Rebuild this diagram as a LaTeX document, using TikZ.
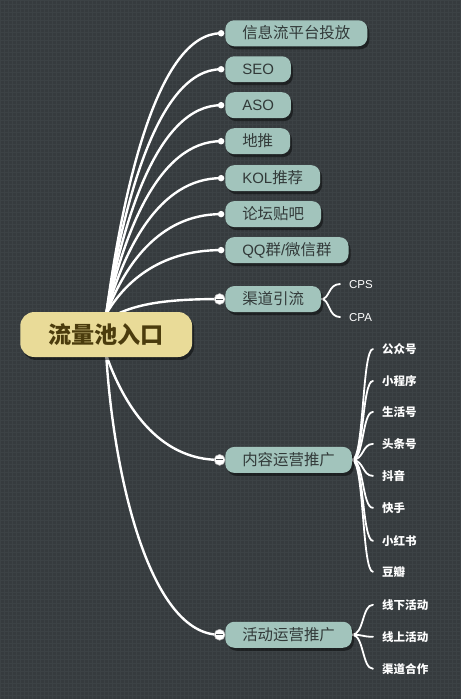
\documentclass[tikz,border=0pt]{standalone}
\usepackage{fontspec}
\setmainfont{Liberation Sans}
\newfontfamily\cjk{Noto Sans CJK SC}[Scale=1.03]
\usetikzlibrary{shadows}
\definecolor{bgc}{HTML}{363B3E}
\definecolor{gridc}{HTML}{3C4245}
\definecolor{boxc}{HTML}{A2C4BC}
\definecolor{boxtxt}{HTML}{323A39}
\definecolor{rootc}{HTML}{E9DB98}
\definecolor{roottxt}{HTML}{4B3C0D}
\definecolor{foldbar}{HTML}{4A4F52}
\pgfdeclarelayer{bglayer}
\pgfdeclarelayer{linelayer}
\pgfsetlayers{bglayer,linelayer,main}
\tikzset{
 topic/.style={anchor=west, fill=boxc, text=boxtxt, rounded corners=9pt, minimum height=26pt,
   inner xsep=17pt, inner ysep=0pt, text height=11.5pt, text depth=0.5pt,
   font=\fontsize{15}{18}\selectfont,
   drop shadow={shadow xshift=2pt, shadow yshift=-3pt, opacity=0.45, fill=black}},
 rootbox/.style={fill=rootc, text=roottxt, rounded corners=14pt, minimum width=172pt,
   minimum height=45pt, inner sep=0pt, text height=17.5pt, text depth=0pt,
   font=\fontsize{22.5}{26}\selectfont\bfseries,
   drop shadow={shadow xshift=2pt, shadow yshift=-3pt, opacity=0.45, fill=black}},
 leaf/.style={anchor=west, text=white, inner sep=0pt, font=\fontsize{11.2}{13}\selectfont\bfseries,
   text height=9pt, text depth=0pt},
 latleaf/.style={anchor=west, text=white, inner sep=0pt, font=\fontsize{11.5}{13}\selectfont,
   text height=8.2pt, text depth=0pt},
 mainline/.style={draw=white, line width=2.4pt, line cap=round},
 subline/.style={draw=white, line width=1.8pt, line cap=round},
 dotc/.style={fill=white, circle, inner sep=0pt, minimum size=6.5pt},
 fold/.style={fill=white, draw=gray!60, line width=0.5pt, circle, inner sep=0pt, minimum size=11pt,
   path picture={\draw[foldbar, line width=1.1pt] ([xshift=-3.6pt]path picture bounding box.center) -- ([xshift=3.6pt]path picture bounding box.center);}}
}
\begin{document}
\begin{tikzpicture}[x=1pt,y=-1pt]
\begin{pgfonlayer}{bglayer}
\fill[bgc] (0,0) rectangle (460,699);
\draw[gridc, line width=0.6pt] (0,0) grid[step=4pt] (460,699);
\end{pgfonlayer}
\useasboundingbox (0,0) rectangle (460,699);

% root
\node[rootbox] (root) at (106,334.5) {\cjk 流量池入口};
\coordinate (rt) at (106,314);
\coordinate (rb) at (106,355);

% first-level topics
\node[topic] (t1) at (225,33) {\cjk 信息流平台投放};
\node[topic] (t2) at (225,69) {SEO};
\node[topic] (t3) at (225,105) {ASO};
\node[topic] (t4) at (225,141) {\cjk 地推};
\node[topic] (t5) at (225,178) {KOL{\cjk 推荐}};
\node[topic] (t6) at (225,214) {\cjk 论坛贴吧};
\node[topic] (t7) at (225,250) {QQ{\cjk 群}/{\cjk 微信群}};
\node[topic] (t8) at (225,299) {\cjk 渠道引流};
\node[topic] (t9) at (225,460) {\cjk 内容运营推广};
\node[topic] (t10) at (225,635) {\cjk 活动运营推广};

% dots
\node[dotc] (d1) at (221,33) {};
\node[dotc] (d2) at (221,69) {};
\node[dotc] (d3) at (221,105) {};
\node[dotc] (d4) at (221,141) {};
\node[dotc] (d5) at (221,178) {};
\node[dotc] (d6) at (221,214) {};
\node[dotc] (d7) at (221,250) {};
\node[fold] (f8) at (219.5,299) {};
\node[fold] (f9) at (219.5,460) {};
\node[fold] (f10) at (219.5,635) {};

% leaves
\node[latleaf] (cps) at (349,284) {CPS};
\node[latleaf] (cpa) at (349,317) {CPA};
\node[leaf] (n1) at (382,349) {\cjk 公众号};
\node[leaf] (n2) at (382,381) {\cjk 小程序};
\node[leaf] (n3) at (382,412) {\cjk 生活号};
\node[leaf] (n4) at (382,444) {\cjk 头条号};
\node[leaf] (n5) at (382,476) {\cjk 抖音};
\node[leaf] (n6) at (382,508) {\cjk 快手};
\node[leaf] (n7) at (382,541) {\cjk 小红书};
\node[leaf] (n8) at (382,572) {\cjk 豆瓣};
\node[leaf] (a1) at (382,605) {\cjk 线下活动};
\node[leaf] (a2) at (382,637) {\cjk 线上活动};
\node[leaf] (a3) at (382,669) {\cjk 渠道合作};

\begin{pgfonlayer}{linelayer}
\draw[mainline] (rt) .. controls (123.25,186.45) and (157.75,33) .. (d1.center);
\draw[mainline] (rt) .. controls (123.25,202.65) and (157.75,69) .. (d2.center);
\draw[mainline] (rt) .. controls (123.25,218.85) and (157.75,105) .. (d3.center);
\draw[mainline] (rt) .. controls (123.25,235.05) and (157.75,141) .. (d4.center);
\draw[mainline] (rt) .. controls (123.25,251.7) and (157.75,178) .. (d5.center);
\draw[mainline] (rt) .. controls (123.25,267.9) and (157.75,214) .. (d6.center);
\draw[mainline] (rt) .. controls (123.25,284.1) and (157.75,250) .. (d7.center);
\draw[mainline] ([yshift=-6pt]rt) .. controls (130,305) and (160,299) .. (f8.center);
\draw[mainline] (rb) .. controls (123,403.35) and (156.85,460) .. (f9.center);
\draw[mainline] (rb) .. controls (113.9,482) and (151.2,635) .. (f10.center);

\draw[subline] (t8.east) .. controls (330,299) and (328,284) .. ([xshift=-9pt]cps.west);
\draw[subline] (t8.east) .. controls (330,299) and (328,317) .. ([xshift=-9pt]cpa.west);

\foreach \n in {n1,n2,n3,n4,n5,n6,n7,n8}
  \draw[subline] (t9.east) .. controls ([xshift=12pt]t9.east) and ([xshift=-20pt]\n.west) .. ([xshift=-9pt]\n.west);
\foreach \n in {a1,a2,a3}
  \draw[subline] (t10.east) .. controls ([xshift=12pt]t10.east) and ([xshift=-20pt]\n.west) .. ([xshift=-9pt]\n.west);
\end{pgfonlayer}
\end{tikzpicture}
\end{document}
